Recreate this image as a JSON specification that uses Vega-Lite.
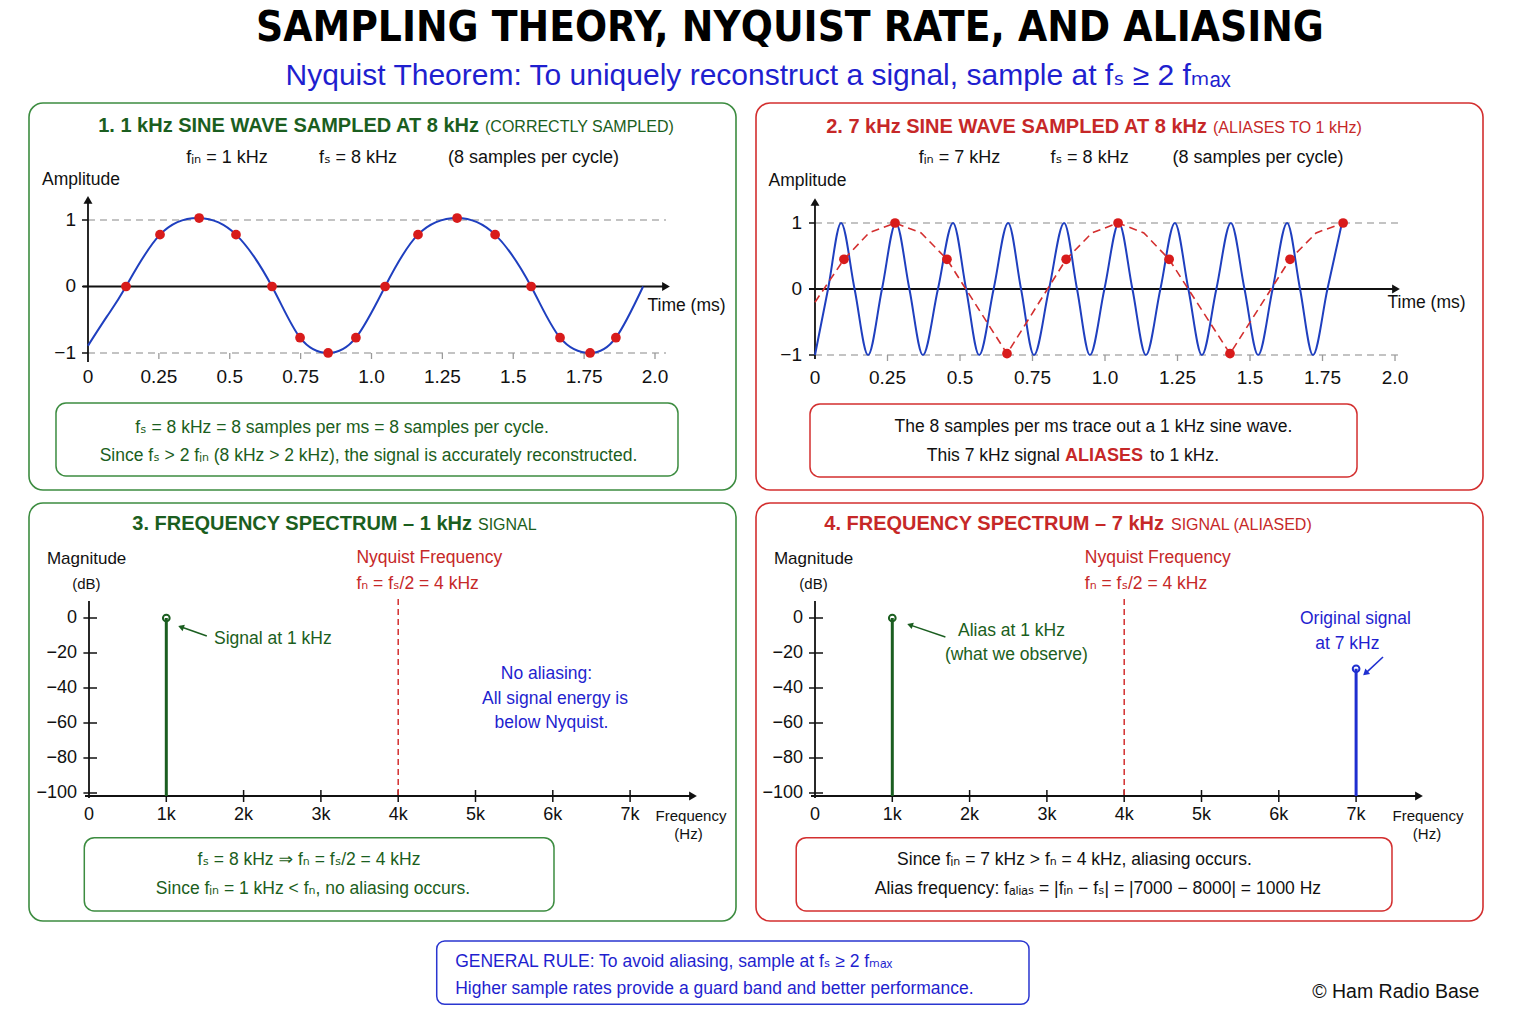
{
"$schema": "https://vega.github.io/schema/vega-lite/v6.json",
"padding": {"left": 28, "top": 0, "right": 0, "bottom": 0},
"background": "white",
"config": {"font": "Liberation Sans, Arial, DejaVu Sans, sans-serif", "axis": {"disable": true}, "view": {"stroke": null}},
"spacing": 11,
"vconcat": [
{
 "width": 1452, "height": 91,
 "data": {"values": [{}]},
 "layer": [
  {"mark": {"type": "text", "text": "SAMPLING THEORY, NYQUIST RATE, AND ALIASING", "font": "Liberation Sans Narrow, DejaVu Sans Condensed, Liberation Sans, sans-serif", "fontSize": 42, "fontWeight": "bold", "color": "#000000"},
   "encoding": {
    "x": {"datum": 0.5241, "type": "quantitative", "scale": {"domain": [0, 1], "nice": false, "zero": false}, "axis": null},
    "y": {"datum": 0.69, "type": "quantitative", "scale": {"domain": [0, 1], "nice": false, "zero": false}, "axis": null}
   }},
  {"mark": {"type": "text", "text": "Nyquist Theorem: To uniquely reconstruct a signal, sample at fₛ ≥ 2 fₘₐₓ", "fontSize": 30, "color": "#1f1fcf"},
   "encoding": {"x": {"datum": 0.5021}, "y": {"datum": 0.165}}}
 ]
},
{"spacing": 18, "hconcat": [
{
 "width": 707, "height": 387,
 "view": {"stroke": "#3c8c40", "strokeWidth": 1.6, "cornerRadius": 14, "fill": "#ffffff"},
 "data": {"values": [{}]},
 "layer": [
  {"data": {"values": [{"a": 1}, {"a": -1}]},
   "mark": {"type": "rule", "color": "#b0b0b0", "strokeDash": [7, 5], "strokeWidth": 1.3},
   "encoding": {
    "x": {"datum": 0, "type": "quantitative", "scale": {"domain": [-0.2081, 2.2857], "nice": false, "zero": false}, "axis": null},
    "x2": {"datum": 2.0388},
    "y": {"field": "a", "type": "quantitative", "scale": {"domain": [-3.0602, 2.7594], "nice": false, "zero": false}, "axis": null}
   }},
  {"data": {"values": [{"t": 0.25}, {"t": 0.5}, {"t": 0.75}, {"t": 1.0}, {"t": 1.25}, {"t": 1.5}, {"t": 1.75}, {"t": 2.0}]},
   "mark": {"type": "rule", "color": "#9a9a9a", "strokeWidth": 1.3},
   "encoding": {"x": {"field": "t", "type": "quantitative"}, "y": {"datum": -1}, "y2": {"datum": -1.09}}},
  {"mark": {"type": "rule", "color": "#111111", "strokeWidth": 1.8},
   "encoding": {"x": {"datum": 0}, "y": {"datum": -1.135}, "y2": {"datum": 1.2857}}},
  {"mark": {"type": "point", "shape": "triangle-up", "filled": true, "color": "#111111", "opacity": 1, "size": 80},
   "encoding": {"x": {"datum": 0}, "y": {"datum": 1.3008}}},
  {"mark": {"type": "rule", "color": "#111111", "strokeWidth": 1.8},
   "encoding": {"y": {"datum": 0}, "x": {"datum": -0.0176}, "x2": {"datum": 2.0318}}},
  {"mark": {"type": "point", "shape": "triangle-right", "filled": true, "color": "#111111", "opacity": 1, "size": 80},
   "encoding": {"y": {"datum": 0}, "x": {"datum": 2.0388}}},
  {"data": {"values": [{"a": 1}, {"a": 0}, {"a": -1}]},
   "layer": [
    {"mark": {"type": "rule", "color": "#111111", "strokeWidth": 1.5},
     "encoding": {"y": {"field": "a", "type": "quantitative"}, "x": {"datum": -0.0212}, "x2": {"datum": 0}}},
    {"mark": {"type": "text", "align": "right", "fontSize": 19, "color": "#111111"},
     "encoding": {"y": {"field": "a", "type": "quantitative"}, "x": {"datum": -0.0423}, "text": {"field": "a", "type": "quantitative", "format": "d"}}}
   ]},
  {"data": {"values": [{"t": 0, "lab": "0"}, {"t": 0.25, "lab": "0.25"}, {"t": 0.5, "lab": "0.5"}, {"t": 0.75, "lab": "0.75"}, {"t": 1.0, "lab": "1.0"}, {"t": 1.25, "lab": "1.25"}, {"t": 1.5, "lab": "1.5"}, {"t": 1.75, "lab": "1.75"}, {"t": 2.0, "lab": "2.0"}]},
   "mark": {"type": "text", "fontSize": 19, "color": "#111111"},
   "encoding": {"x": {"field": "t", "type": "quantitative"}, "y": {"datum": -1.3609}, "text": {"field": "lab"}}},
  {"data": {"values": [{"t": 0, "a": -0.89}, {"t": 0.067, "a": -0.45}, {"t": 0.134, "a": 0}, {"t": 0.254, "a": 0.78}, {"t": 0.392, "a": 1.03}, {"t": 0.522, "a": 0.78}, {"t": 0.649, "a": 0}, {"t": 0.748, "a": -0.77}, {"t": 0.847, "a": -1.0}, {"t": 0.945, "a": -0.77}, {"t": 1.048, "a": 0}, {"t": 1.164, "a": 0.78}, {"t": 1.302, "a": 1.03}, {"t": 1.436, "a": 0.78}, {"t": 1.563, "a": 0}, {"t": 1.665, "a": -0.77}, {"t": 1.771, "a": -1.0}, {"t": 1.862, "a": -0.77}, {"t": 1.958, "a": 0}]},
   "mark": {"type": "line", "color": "#1f3fbf", "strokeWidth": 2, "interpolate": "natural"},
   "encoding": {"x": {"field": "t", "type": "quantitative"}, "y": {"field": "a", "type": "quantitative"}}},
  {"data": {"values": [{"t": 0.134, "a": 0}, {"t": 0.254, "a": 0.78}, {"t": 0.392, "a": 1.03}, {"t": 0.522, "a": 0.78}, {"t": 0.649, "a": 0}, {"t": 0.748, "a": -0.77}, {"t": 0.847, "a": -1.0}, {"t": 0.945, "a": -0.77}, {"t": 1.048, "a": 0}, {"t": 1.164, "a": 0.78}, {"t": 1.302, "a": 1.03}, {"t": 1.436, "a": 0.78}, {"t": 1.563, "a": 0}, {"t": 1.665, "a": -0.77}, {"t": 1.771, "a": -1.0}, {"t": 1.862, "a": -0.77}]},
   "mark": {"type": "circle", "color": "#d81b1b", "size": 95, "opacity": 1},
   "encoding": {"x": {"field": "t", "type": "quantitative"}, "y": {"field": "a", "type": "quantitative"}}},
  {"mark": {"type": "text", "text": "Amplitude", "fontSize": 17.5, "color": "#111111"},
   "encoding": {"x": {"datum": -0.0247}, "y": {"datum": 1.6015}}},
  {"mark": {"type": "text", "text": "Time (ms)", "fontSize": 17.5, "color": "#111111"},
   "encoding": {"x": {"datum": 2.1111}, "y": {"datum": -0.2932}}},
  {"mark": {"type": "text", "text": "1. 1 kHz SINE WAVE SAMPLED AT 8 kHz", "align": "right", "baseline": "alphabetic", "fontSize": 20, "fontWeight": "bold", "color": "#1b5e20"},
   "encoding": {"x": {"datum": 1.3792}, "y": {"datum": 2.3188}}},
  {"mark": {"type": "text", "text": "(CORRECTLY SAMPLED)", "align": "left", "baseline": "alphabetic", "fontSize": 16, "color": "#1b5e20"},
   "encoding": {"x": {"datum": 1.4004}, "y": {"datum": 2.3188}}},
  {"mark": {"type": "text", "text": "fᵢₙ = 1 kHz", "fontSize": 18, "color": "#111111"},
   "encoding": {"x": {"datum": 0.4903}, "y": {"datum": 1.9323}}},
  {"mark": {"type": "text", "text": "fₛ = 8 kHz", "fontSize": 18, "color": "#111111"},
   "encoding": {"x": {"datum": 0.9524}, "y": {"datum": 1.9323}}},
  {"mark": {"type": "text", "text": "(8 samples per cycle)", "fontSize": 18, "color": "#111111"},
   "encoding": {"x": {"datum": 1.5714}, "y": {"datum": 1.9323}}},
  {"mark": {"type": "rect", "fill": "#ffffff", "stroke": "#3c8c40", "strokeWidth": 1.5, "cornerRadius": 10},
   "encoding": {"x": {"datum": -0.1129}, "x2": {"datum": 2.0811}, "y": {"datum": -1.7519}, "y2": {"datum": -2.8496}}},
  {"mark": {"type": "text", "text": "fₛ = 8 kHz = 8 samples per ms = 8 samples per cycle.", "fontSize": 17.5, "color": "#1b5e20"},
   "encoding": {"x": {"datum": 0.8959}, "y": {"datum": -2.1278}}},
  {"mark": {"type": "text", "text": "Since fₛ > 2 fᵢₙ (8 kHz > 2 kHz), the signal is accurately reconstructed.", "fontSize": 17.5, "color": "#1b5e20"},
   "encoding": {"x": {"datum": 0.9894}, "y": {"datum": -2.5489}}}
 ]
},
{
 "width": 727, "height": 387,
 "view": {"stroke": "#d32f2f", "strokeWidth": 1.6, "cornerRadius": 14, "fill": "#ffffff"},
 "data": {"values": [{}]},
 "layer": [
  {"data": {"values": [{"a": 1}, {"a": -1}]},
   "mark": {"type": "rule", "color": "#b0b0b0", "strokeDash": [7, 5], "strokeWidth": 1.3},
   "encoding": {
    "x": {"datum": 0, "type": "quantitative", "scale": {"domain": [-0.2034, 2.3034], "nice": false, "zero": false}, "axis": null},
    "x2": {"datum": 2.0276},
    "y": {"field": "a", "type": "quantitative", "scale": {"domain": [-3.0455, 2.8182], "nice": false, "zero": false}, "axis": null}
   }},
  {"data": {"values": [{"t": 0.25}, {"t": 0.5}, {"t": 0.75}, {"t": 1.0}, {"t": 1.25}, {"t": 1.5}, {"t": 1.75}, {"t": 2.0}]},
   "mark": {"type": "rule", "color": "#9a9a9a", "strokeWidth": 1.3},
   "encoding": {"x": {"field": "t", "type": "quantitative"}, "y": {"datum": -1}, "y2": {"datum": -1.0909}}},
  {"mark": {"type": "rule", "color": "#111111", "strokeWidth": 1.8},
   "encoding": {"x": {"datum": 0}, "y": {"datum": -1.0606}, "y2": {"datum": 1.303}}},
  {"mark": {"type": "point", "shape": "triangle-up", "filled": true, "color": "#111111", "opacity": 1, "size": 80},
   "encoding": {"x": {"datum": 0}, "y": {"datum": 1.3182}}},
  {"mark": {"type": "rule", "color": "#111111", "strokeWidth": 1.8},
   "encoding": {"y": {"datum": 0}, "x": {"datum": -0.0207}, "x2": {"datum": 1.9966}}},
  {"mark": {"type": "point", "shape": "triangle-right", "filled": true, "color": "#111111", "opacity": 1, "size": 80},
   "encoding": {"y": {"datum": 0}, "x": {"datum": 2.0034}}},
  {"data": {"values": [{"a": 1}, {"a": 0}, {"a": -1}]},
   "layer": [
    {"mark": {"type": "rule", "color": "#111111", "strokeWidth": 1.5},
     "encoding": {"y": {"field": "a", "type": "quantitative"}, "x": {"datum": -0.0207}, "x2": {"datum": 0}}},
    {"mark": {"type": "text", "align": "right", "fontSize": 19, "color": "#111111"},
     "encoding": {"y": {"field": "a", "type": "quantitative"}, "x": {"datum": -0.0448}, "text": {"field": "a", "type": "quantitative", "format": "d"}}}
   ]},
  {"data": {"values": [{"t": 0, "lab": "0"}, {"t": 0.25, "lab": "0.25"}, {"t": 0.5, "lab": "0.5"}, {"t": 0.75, "lab": "0.75"}, {"t": 1.0, "lab": "1.0"}, {"t": 1.25, "lab": "1.25"}, {"t": 1.5, "lab": "1.5"}, {"t": 1.75, "lab": "1.75"}, {"t": 2.0, "lab": "2.0"}]},
   "mark": {"type": "text", "fontSize": 19, "color": "#111111"},
   "encoding": {"x": {"field": "t", "type": "quantitative"}, "y": {"datum": -1.3485}, "text": {"field": "lab"}}},
  {"data": {"values": [{"t": 0, "a": -1}, {"t": 0.045, "a": 0}, {"t": 0.09, "a": 1}, {"t": 0.1365, "a": 0}, {"t": 0.183, "a": -1}, {"t": 0.231, "a": 0}, {"t": 0.279, "a": 1}, {"t": 0.3255, "a": 0}, {"t": 0.372, "a": -1}, {"t": 0.424, "a": 0}, {"t": 0.476, "a": 1}, {"t": 0.521, "a": 0}, {"t": 0.566, "a": -1}, {"t": 0.616, "a": 0}, {"t": 0.666, "a": 1}, {"t": 0.7105, "a": 0}, {"t": 0.755, "a": -1}, {"t": 0.807, "a": 0}, {"t": 0.859, "a": 1}, {"t": 0.9035, "a": 0}, {"t": 0.948, "a": -1}, {"t": 0.998, "a": 0}, {"t": 1.048, "a": 1}, {"t": 1.0945, "a": 0}, {"t": 1.141, "a": -1}, {"t": 1.191, "a": 0}, {"t": 1.241, "a": 1}, {"t": 1.2875, "a": 0}, {"t": 1.334, "a": -1}, {"t": 1.384, "a": 0}, {"t": 1.434, "a": 1}, {"t": 1.481, "a": 0}, {"t": 1.528, "a": -1}, {"t": 1.578, "a": 0}, {"t": 1.628, "a": 1}, {"t": 1.6725, "a": 0}, {"t": 1.717, "a": -1}, {"t": 1.767, "a": 0}, {"t": 1.817, "a": 1}]},
   "mark": {"type": "line", "color": "#1f3fbf", "strokeWidth": 2, "interpolate": "monotone"},
   "encoding": {"x": {"field": "t", "type": "quantitative"}, "y": {"field": "a", "type": "quantitative"}}},
  {"data": {"values": [{"t": 0, "a": -0.2}, {"t": 0.1, "a": 0.45}, {"t": 0.186, "a": 0.85}, {"t": 0.276, "a": 1}, {"t": 0.366, "a": 0.85}, {"t": 0.455, "a": 0.45}, {"t": 0.662, "a": -0.98}, {"t": 0.866, "a": 0.45}, {"t": 0.955, "a": 0.85}, {"t": 1.045, "a": 1}, {"t": 1.134, "a": 0.85}, {"t": 1.221, "a": 0.45}, {"t": 1.431, "a": -0.98}, {"t": 1.638, "a": 0.45}, {"t": 1.728, "a": 0.85}, {"t": 1.821, "a": 1}]},
   "mark": {"type": "line", "color": "#d32f2f", "strokeWidth": 1.6, "strokeDash": [8, 5]},
   "encoding": {"x": {"field": "t", "type": "quantitative"}, "y": {"field": "a", "type": "quantitative"}}},
  {"data": {"values": [{"t": 0.1, "a": 0.45}, {"t": 0.276, "a": 1}, {"t": 0.455, "a": 0.45}, {"t": 0.662, "a": -0.98}, {"t": 0.866, "a": 0.45}, {"t": 1.045, "a": 1}, {"t": 1.221, "a": 0.45}, {"t": 1.431, "a": -0.98}, {"t": 1.638, "a": 0.45}, {"t": 1.821, "a": 1}]},
   "mark": {"type": "circle", "color": "#d81b1b", "size": 95, "opacity": 1},
   "encoding": {"x": {"field": "t", "type": "quantitative"}, "y": {"field": "a", "type": "quantitative"}}},
  {"mark": {"type": "text", "text": "Amplitude", "fontSize": 17.5, "color": "#111111"},
   "encoding": {"x": {"datum": -0.0259}, "y": {"datum": 1.6364}}},
  {"mark": {"type": "text", "text": "Time (ms)", "fontSize": 17.5, "color": "#111111"},
   "encoding": {"x": {"datum": 2.1086}, "y": {"datum": -0.2121}}},
  {"mark": {"type": "text", "text": "2. 7 kHz SINE WAVE SAMPLED AT 8 kHz", "align": "right", "baseline": "alphabetic", "fontSize": 20, "fontWeight": "bold", "color": "#c62828"},
   "encoding": {"x": {"datum": 1.3517}, "y": {"datum": 2.359}}},
  {"mark": {"type": "text", "text": "(ALIASES TO 1 kHz)", "align": "left", "baseline": "alphabetic", "fontSize": 16, "color": "#c62828"},
   "encoding": {"x": {"datum": 1.3724}, "y": {"datum": 2.359}}},
  {"mark": {"type": "text", "text": "fᵢₙ = 7 kHz", "fontSize": 18, "color": "#111111"},
   "encoding": {"x": {"datum": 0.4983}, "y": {"datum": 1.9848}}},
  {"mark": {"type": "text", "text": "fₛ = 8 kHz", "fontSize": 18, "color": "#111111"},
   "encoding": {"x": {"datum": 0.9466}, "y": {"datum": 1.9848}}},
  {"mark": {"type": "text", "text": "(8 samples per cycle)", "fontSize": 18, "color": "#111111"},
   "encoding": {"x": {"datum": 1.5276}, "y": {"datum": 1.9848}}},
  {"mark": {"type": "rect", "fill": "#ffffff", "stroke": "#d32f2f", "strokeWidth": 1.5, "cornerRadius": 10},
   "encoding": {"x": {"datum": -0.0172}, "x2": {"datum": 1.869}, "y": {"datum": -1.7424}, "y2": {"datum": -2.8485}}},
  {"mark": {"type": "text", "text": "The 8 samples per ms trace out a 1 kHz sine wave.", "fontSize": 17.5, "color": "#111111"},
   "encoding": {"x": {"datum": 0.9603}, "y": {"datum": -2.09}}},
  {"mark": {"type": "text", "text": "This 7 kHz signal", "align": "right", "fontSize": 17.5, "color": "#111111"},
   "encoding": {"x": {"datum": 0.8448}, "y": {"datum": -2.5258}}},
  {"mark": {"type": "text", "text": "ALIASES", "fontSize": 18, "fontWeight": "bold", "color": "#c62828"},
   "encoding": {"x": {"datum": 0.9966}, "y": {"datum": -2.5258}}},
  {"mark": {"type": "text", "text": "to 1 kHz.", "align": "left", "fontSize": 17.5, "color": "#111111"},
   "encoding": {"x": {"datum": 1.1552}, "y": {"datum": -2.5258}}}
 ]
}
]},
{"spacing": 18, "hconcat": [
{
 "width": 707, "height": 418,
 "view": {"stroke": "#3c8c40", "strokeWidth": 1.6, "cornerRadius": 14, "fill": "#ffffff"},
 "data": {"values": [{}]},
 "layer": [
  {"mark": {"type": "rule", "color": "#111111", "strokeWidth": 1.8},
   "encoding": {
    "x": {"datum": 0, "type": "quantitative", "scale": {"domain": [-776.2, 8370.0], "nice": false, "zero": false}, "axis": null},
    "y": {"datum": 9.714, "type": "quantitative", "scale": {"domain": [-173.143, 65.714], "nice": false, "zero": false}, "axis": null},
    "y2": {"datum": -102.857}
   }},
  {"data": {"values": [{"db": 0}, {"db": -20}, {"db": -40}, {"db": -60}, {"db": -80}, {"db": -100}]},
   "layer": [
    {"mark": {"type": "rule", "color": "#111111", "strokeWidth": 1.5},
     "encoding": {"y": {"field": "db", "type": "quantitative"}, "x": {"datum": -72.4}, "x2": {"datum": 103.5}}},
    {"mark": {"type": "text", "align": "right", "fontSize": 18, "color": "#111111"},
     "encoding": {"y": {"field": "db", "type": "quantitative"}, "x": {"datum": -155.2}, "text": {"field": "db", "type": "quantitative", "format": "d"}}}
   ]},
  {"mark": {"type": "rule", "color": "#111111", "strokeWidth": 1.8},
   "encoding": {"y": {"datum": -101.714}, "x": {"datum": -51.7}, "x2": {"datum": 7787.8}}},
  {"mark": {"type": "point", "shape": "triangle-right", "filled": true, "color": "#111111", "opacity": 1, "size": 80},
   "encoding": {"y": {"datum": -101.714}, "x": {"datum": 7813.7}}},
  {"data": {"values": [{"f": 1000}, {"f": 2000}, {"f": 3000}, {"f": 4000}, {"f": 5000}, {"f": 6000}, {"f": 7000}]},
   "mark": {"type": "rule", "color": "#111111", "strokeWidth": 1.5},
   "encoding": {"x": {"field": "f", "type": "quantitative"}, "y": {"datum": -98.29}, "y2": {"datum": -105.14}}},
  {"data": {"values": [{"f": 0, "lab": "0"}, {"f": 1000, "lab": "1k"}, {"f": 2000, "lab": "2k"}, {"f": 3000, "lab": "3k"}, {"f": 4000, "lab": "4k"}, {"f": 5000, "lab": "5k"}, {"f": 6000, "lab": "6k"}, {"f": 7000, "lab": "7k"}]},
   "mark": {"type": "text", "fontSize": 18, "color": "#111111"},
   "encoding": {"x": {"field": "f", "type": "quantitative"}, "y": {"datum": -112.57}, "text": {"field": "lab"}}},
  {"mark": {"type": "rule", "color": "#d32f2f", "strokeWidth": 1.5, "strokeDash": [6, 4]},
   "encoding": {"x": {"datum": 4000}, "y": {"datum": 10.857}, "y2": {"datum": -101.714}}},
  {"data": {"values": [{"f": 1000, "db": 0}]},
   "layer": [
    {"mark": {"type": "rule", "color": "#1b5e20", "strokeWidth": 3},
     "encoding": {"x": {"field": "f", "type": "quantitative"}, "y": {"field": "db", "type": "quantitative"}, "y2": {"datum": -101.714}}},
    {"mark": {"type": "point", "filled": false, "color": "#1b5e20", "size": 45, "strokeWidth": 2, "opacity": 1},
     "encoding": {"x": {"field": "f", "type": "quantitative"}, "y": {"field": "db", "type": "quantitative"}}}
   ]},
  {"mark": {"type": "rule", "color": "#1b5e20", "strokeWidth": 1.5},
   "encoding": {"x": {"datum": 1524}, "y": {"datum": -10.29}, "x2": {"datum": 1177}, "y2": {"datum": -4.86}}},
  {"mark": {"type": "point", "shape": "triangle-left", "filled": true, "color": "#1b5e20", "opacity": 1, "size": 45, "angle": 20},
   "encoding": {"x": {"datum": 1190}, "y": {"datum": -5.14}}},
  {"mark": {"type": "text", "text": "Signal at 1 kHz", "align": "left", "fontSize": 17.5, "color": "#1b5e20"},
   "encoding": {"x": {"datum": 1617}, "y": {"datum": -11.83}}},
  {"mark": {"type": "text", "text": "Nyquist Frequency", "align": "left", "fontSize": 17.5, "color": "#c62828"},
   "encoding": {"x": {"datum": 3459}, "y": {"datum": 34.11}}},
  {"mark": {"type": "text", "text": "fₙ = fₛ/2 = 4 kHz", "align": "left", "fontSize": 17.5, "color": "#c62828"},
   "encoding": {"x": {"datum": 3459}, "y": {"datum": 19.6}}},
  {"mark": {"type": "text", "text": "No aliasing:", "fontSize": 17.5, "color": "#1f1fcf"},
   "encoding": {"x": {"datum": 5918}, "y": {"datum": -32.17}}},
  {"mark": {"type": "text", "text": "All signal energy is", "fontSize": 17.5, "color": "#1f1fcf"},
   "encoding": {"x": {"datum": 6028}, "y": {"datum": -46.11}}},
  {"mark": {"type": "text", "text": "below Nyquist.", "fontSize": 17.5, "color": "#1f1fcf"},
   "encoding": {"x": {"datum": 5983}, "y": {"datum": -59.83}}},
  {"mark": {"type": "text", "text": "Magnitude", "fontSize": 17, "color": "#111111"},
   "encoding": {"x": {"datum": -31.0}, "y": {"datum": 33.71}}},
  {"mark": {"type": "text", "text": "(dB)", "fontSize": 15, "color": "#111111"},
   "encoding": {"x": {"datum": -33.6}, "y": {"datum": 19.6}}},
  {"mark": {"type": "text", "text": "Frequency", "fontSize": 15, "color": "#111111"},
   "encoding": {"x": {"datum": 7788}, "y": {"datum": -113.14}}},
  {"mark": {"type": "text", "text": "(Hz)", "fontSize": 15, "color": "#111111"},
   "encoding": {"x": {"datum": 7755}, "y": {"datum": -123.6}}},
  {"mark": {"type": "rect", "fill": "#ffffff", "stroke": "#3c8c40", "strokeWidth": 1.5, "cornerRadius": 10},
   "encoding": {"x": {"datum": -60.8}, "x2": {"datum": 6015.5}, "y": {"datum": -125.54}, "y2": {"datum": -167.43}}},
  {"mark": {"type": "text", "text": "fₛ = 8 kHz ⇒ fₙ = fₛ/2 = 4 kHz", "fontSize": 17.5, "color": "#1b5e20"},
   "encoding": {"x": {"datum": 2846}, "y": {"datum": -138.46}}},
  {"mark": {"type": "text", "text": "Since fᵢₙ = 1 kHz < fₙ, no aliasing occurs.", "fontSize": 17.5, "color": "#1b5e20"},
   "encoding": {"x": {"datum": 2898}, "y": {"datum": -155.03}}},
  {"mark": {"type": "text", "text": "3. FREQUENCY SPECTRUM – 1 kHz", "align": "right", "baseline": "alphabetic", "fontSize": 20, "fontWeight": "bold", "color": "#1b5e20"},
   "encoding": {"x": {"datum": 4955}, "y": {"datum": 50.11}}},
  {"mark": {"type": "text", "text": "SIGNAL", "align": "left", "baseline": "alphabetic", "fontSize": 16, "color": "#1b5e20"},
   "encoding": {"x": {"datum": 5032}, "y": {"datum": 50.11}}}
 ]
},
{
 "width": 727, "height": 418,
 "view": {"stroke": "#d32f2f", "strokeWidth": 1.6, "cornerRadius": 14, "fill": "#ffffff"},
 "data": {"values": [{}]},
 "layer": [
  {"mark": {"type": "rule", "color": "#111111", "strokeWidth": 1.8},
   "encoding": {
    "x": {"datum": 0, "type": "quantitative", "scale": {"domain": [-763.3, 8641.7], "nice": false, "zero": false}, "axis": null},
    "y": {"datum": 9.714, "type": "quantitative", "scale": {"domain": [-173.143, 65.714], "nice": false, "zero": false}, "axis": null},
    "y2": {"datum": -102.857}
   }},
  {"data": {"values": [{"db": 0}, {"db": -20}, {"db": -40}, {"db": -60}, {"db": -80}, {"db": -100}]},
   "layer": [
    {"mark": {"type": "rule", "color": "#111111", "strokeWidth": 1.5},
     "encoding": {"y": {"field": "db", "type": "quantitative"}, "x": {"datum": -77.6}, "x2": {"datum": 103.5}}},
    {"mark": {"type": "text", "align": "right", "fontSize": 18, "color": "#111111"},
     "encoding": {"y": {"field": "db", "type": "quantitative"}, "x": {"datum": -155.2}, "text": {"field": "db", "type": "quantitative", "format": "d"}}}
   ]},
  {"mark": {"type": "rule", "color": "#111111", "strokeWidth": 1.8},
   "encoding": {"y": {"datum": -101.714}, "x": {"datum": -51.7}, "x2": {"datum": 7787.8}}},
  {"mark": {"type": "point", "shape": "triangle-right", "filled": true, "color": "#111111", "opacity": 1, "size": 80},
   "encoding": {"y": {"datum": -101.714}, "x": {"datum": 7813.7}}},
  {"data": {"values": [{"f": 1000}, {"f": 2000}, {"f": 3000}, {"f": 4000}, {"f": 5000}, {"f": 6000}, {"f": 7000}]},
   "mark": {"type": "rule", "color": "#111111", "strokeWidth": 1.5},
   "encoding": {"x": {"field": "f", "type": "quantitative"}, "y": {"datum": -98.29}, "y2": {"datum": -105.14}}},
  {"data": {"values": [{"f": 0, "lab": "0"}, {"f": 1000, "lab": "1k"}, {"f": 2000, "lab": "2k"}, {"f": 3000, "lab": "3k"}, {"f": 4000, "lab": "4k"}, {"f": 5000, "lab": "5k"}, {"f": 6000, "lab": "6k"}, {"f": 7000, "lab": "7k"}]},
   "mark": {"type": "text", "fontSize": 18, "color": "#111111"},
   "encoding": {"x": {"field": "f", "type": "quantitative"}, "y": {"datum": -112.57}, "text": {"field": "lab"}}},
  {"mark": {"type": "rule", "color": "#d32f2f", "strokeWidth": 1.5, "strokeDash": [6, 4]},
   "encoding": {"x": {"datum": 4000}, "y": {"datum": 10.857}, "y2": {"datum": -101.714}}},
  {"data": {"values": [{"f": 1000, "db": 0, "kind": "Alias"}, {"f": 7000, "db": -29, "kind": "Original"}]},
   "layer": [
    {"mark": {"type": "rule", "strokeWidth": 3},
     "encoding": {"x": {"field": "f", "type": "quantitative"}, "y": {"field": "db", "type": "quantitative"}, "y2": {"datum": -101.714},
      "color": {"field": "kind", "type": "nominal", "scale": {"domain": ["Alias", "Original"], "range": ["#1b5e20", "#1f2fd0"]}, "legend": null}}},
    {"mark": {"type": "point", "filled": false, "size": 45, "strokeWidth": 2, "opacity": 1},
     "encoding": {"x": {"field": "f", "type": "quantitative"}, "y": {"field": "db", "type": "quantitative"},
      "color": {"field": "kind", "type": "nominal", "legend": null}}}
   ]},
  {"mark": {"type": "rule", "color": "#1b5e20", "strokeWidth": 1.5},
   "encoding": {"x": {"datum": 1687}, "y": {"datum": -10.86}, "x2": {"datum": 1216}, "y2": {"datum": -3.77}}},
  {"mark": {"type": "point", "shape": "triangle-left", "filled": true, "color": "#1b5e20", "opacity": 1, "size": 45, "angle": 19},
   "encoding": {"x": {"datum": 1229}, "y": {"datum": -4.0}}},
  {"mark": {"type": "text", "text": "Alias at 1 kHz", "fontSize": 17.5, "color": "#1b5e20"},
   "encoding": {"x": {"datum": 2542}, "y": {"datum": -7.43}}},
  {"mark": {"type": "text", "text": "(what we observe)", "fontSize": 17.5, "color": "#1b5e20"},
   "encoding": {"x": {"datum": 2605}, "y": {"datum": -21.14}}},
  {"mark": {"type": "text", "text": "Nyquist Frequency", "align": "left", "fontSize": 17.5, "color": "#c62828"},
   "encoding": {"x": {"datum": 3490}, "y": {"datum": 34.11}}},
  {"mark": {"type": "text", "text": "fₙ = fₛ/2 = 4 kHz", "align": "left", "fontSize": 17.5, "color": "#c62828"},
   "encoding": {"x": {"datum": 3490}, "y": {"datum": 19.6}}},
  {"mark": {"type": "rule", "color": "#1f2fd0", "strokeWidth": 1.6},
   "encoding": {"x": {"datum": 7348}, "y": {"datum": -22.29}, "x2": {"datum": 7121}, "y2": {"datum": -31.6}}},
  {"mark": {"type": "point", "shape": "triangle-left", "filled": true, "color": "#1f2fd0", "opacity": 1, "size": 50, "angle": -42},
   "encoding": {"x": {"datum": 7121}, "y": {"datum": -31.6}}},
  {"mark": {"type": "text", "text": "Original signal", "fontSize": 17.5, "color": "#1f1fcf"},
   "encoding": {"x": {"datum": 6991}, "y": {"datum": -0.74}}},
  {"mark": {"type": "text", "text": "at 7 kHz", "fontSize": 17.5, "color": "#1f1fcf"},
   "encoding": {"x": {"datum": 6887}, "y": {"datum": -15.03}}},
  {"mark": {"type": "text", "text": "Magnitude", "fontSize": 17, "color": "#111111"},
   "encoding": {"x": {"datum": -18.1}, "y": {"datum": 33.71}}},
  {"mark": {"type": "text", "text": "(dB)", "fontSize": 15, "color": "#111111"},
   "encoding": {"x": {"datum": -19.4}, "y": {"datum": 19.6}}},
  {"mark": {"type": "text", "text": "Frequency", "fontSize": 15, "color": "#111111"},
   "encoding": {"x": {"datum": 7930}, "y": {"datum": -113.14}}},
  {"mark": {"type": "text", "text": "(Hz)", "fontSize": 15, "color": "#111111"},
   "encoding": {"x": {"datum": 7917}, "y": {"datum": -123.6}}},
  {"mark": {"type": "rect", "fill": "#ffffff", "stroke": "#d32f2f", "strokeWidth": 1.5, "cornerRadius": 10},
   "encoding": {"x": {"datum": -243.2}, "x2": {"datum": 7464.4}, "y": {"datum": -125.54}, "y2": {"datum": -167.43}}},
  {"mark": {"type": "text", "text": "Since fᵢₙ = 7 kHz > fₙ = 4 kHz, aliasing occurs.", "fontSize": 17.5, "color": "#111111"},
   "encoding": {"x": {"datum": 3356}, "y": {"datum": -138.46}}},
  {"mark": {"type": "text", "text": "Alias frequency: fₐₗᵢₐₛ = |fᵢₙ − fₛ| = |7000 − 8000| = 1000 Hz", "fontSize": 17.5, "color": "#111111"},
   "encoding": {"x": {"datum": 3660}, "y": {"datum": -155.03}}},
  {"mark": {"type": "text", "text": "4. FREQUENCY SPECTRUM – 7 kHz", "align": "right", "baseline": "alphabetic", "fontSize": 20, "fontWeight": "bold", "color": "#c62828"},
   "encoding": {"x": {"datum": 4515}, "y": {"datum": 50.11}}},
  {"mark": {"type": "text", "text": "SIGNAL (ALIASED)", "align": "left", "baseline": "alphabetic", "fontSize": 16, "color": "#c62828"},
   "encoding": {"x": {"datum": 4605}, "y": {"datum": 50.11}}}
 ]
}
]},
{
 "width": 1452, "height": 88,
 "data": {"values": [{}]},
 "layer": [
  {"mark": {"type": "rect", "fill": "#ffffff", "stroke": "#2a36d0", "strokeWidth": 1.5, "cornerRadius": 8},
   "encoding": {
    "x": {"datum": 0.2808, "type": "quantitative", "scale": {"domain": [0, 1], "nice": false, "zero": false}, "axis": null},
    "x2": {"datum": 0.6887},
    "y": {"datum": 0.9091, "type": "quantitative", "scale": {"domain": [0, 1], "nice": false, "zero": false}, "axis": null},
    "y2": {"datum": 0.1898}
   }},
  {"mark": {"type": "text", "text": "GENERAL RULE: To avoid aliasing, sample at fₛ ≥ 2 fₘₐₓ", "align": "left", "fontSize": 17.5, "color": "#1f1fcf"},
   "encoding": {"x": {"datum": 0.2935}, "y": {"datum": 0.6705}}},
  {"mark": {"type": "text", "text": "Higher sample rates provide a guard band and better performance.", "align": "left", "fontSize": 17.5, "color": "#1f1fcf"},
   "encoding": {"x": {"datum": 0.2935}, "y": {"datum": 0.367}}},
  {"mark": {"type": "text", "text": "© Ham Radio Base", "align": "right", "fontSize": 19.5, "color": "#111111"},
   "encoding": {"x": {"datum": 0.9989}, "y": {"datum": 0.333}}}
 ]
}
]
}
